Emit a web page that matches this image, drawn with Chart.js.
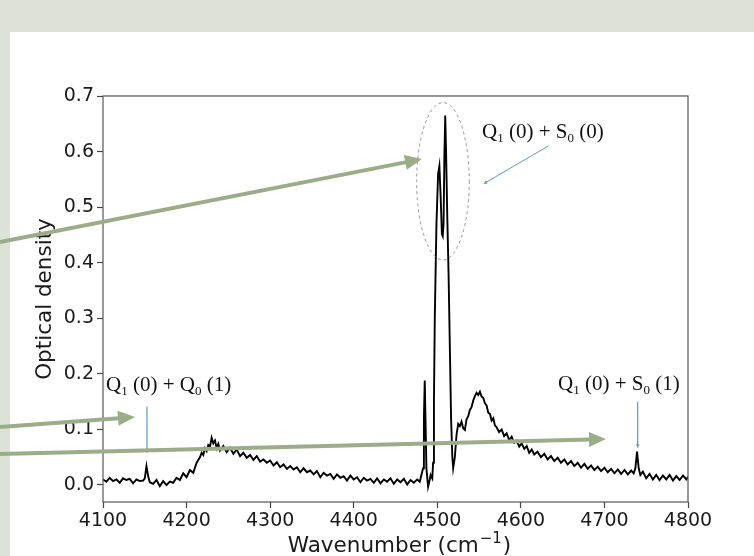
<!DOCTYPE html>
<html><head><meta charset="utf-8">
<script src="https://cdn.jsdelivr.net/npm/chart.js@4/dist/chart.umd.min.js"></script>
<style>html,body{margin:0;padding:0;background:#dde2d6;overflow:hidden}#wrap{position:absolute;left:0;top:0;width:754px;height:556px}</style>
</head><body><div id="wrap"><canvas id="c" width="754" height="556"></canvas></div>
<script>
const wavenumbers = [
4100,4104,4108,4112,4116,4120,4124,4128,4132,4136,4140,4144,4148,
4150,4152,4154,4156,4160,4164,4168,4172,4176,4180,4184,
4188,4192,4196,4200,4204,4208,4212,4216,4218,4220,4222,4224,4226,
4228,4230,4232,4234,4236,4238,4240,4244,4248,4252,
4256,4260,4264,4268,4272,4276,4280,4284,4288,4292,4296,4300,
4304,4308,4312,4316,4320,4324,4328,4332,4336,4340,4344,4348,
4352,4356,4360,4364,4368,4372,4376,4380,4384,4388,4392,4396,
4400,4404,4408,4412,4416,4420,4424,4428,4432,4436,4440,4444,
4448,4452,4456,4460,4464,4468,4472,4476,4479,
4481,4483,4484,4485,4486,4487,4489,4491,4492,4494,4495,4496,4497,
4499,4501,4502.5,4504,4505.5,4506.5,4507.5,4508.5,4509.5,4510.5,4512,4513.5,4515,4516.5,4518,
4519,4521,4523,4525,4527,4529,4531,4533,4535,4537,4539,4541,4543,4545,4547,
4549,4551,4553,4555,4557,4559,4561,4563,4565,4567,4569,4571,
4574,4577,4580,4583,4586,4589,4592,4595,4598,4601,4604,4607,
4610,4613,4616,4620,4624,4628,4632,4636,4640,4644,4648,4652,
4656,4660,4664,4668,4672,4676,4680,4684,4688,4692,4696,4700,
4704,4708,4712,4716,4720,4724,4728,4732,4735,4737,4739,4741,4743,
4746,4750,4754,4758,4762,4766,4770,4774,4778,4782,4786,4790,4794,4798,4800];
const opticalDensity = [
0.010,0.006,0.013,0.007,0.010,0.004,0.012,0.009,0.011,0.003,0.010,0.007,0.008,
0.012,0.034,0.016,0.005,0.002,0.009,-0.002,0.007,0.000,0.006,0.004,
0.013,0.009,0.021,0.014,0.027,0.022,0.040,0.050,0.058,0.054,0.066,0.061,0.072,
0.069,0.085,0.075,0.080,0.066,0.074,0.062,0.070,0.059,0.067,
0.056,0.064,0.052,0.058,0.049,0.054,0.045,0.052,0.042,0.046,0.040,0.044,
0.035,0.041,0.032,0.037,0.029,0.034,0.028,0.032,0.023,0.030,0.023,0.026,
0.019,0.025,0.014,0.022,0.017,0.020,0.011,0.019,0.013,0.016,0.008,0.017,
0.010,0.014,0.005,0.013,0.008,0.011,0.004,0.012,0.003,0.010,0.006,0.012,
0.002,0.010,0.005,0.011,0.001,0.009,0.004,0.010,0.006,
0.018,0.030,0.120,0.188,0.110,0.030,-0.003,0.010,0.018,0.012,0.040,0.150,0.300,
0.470,0.560,0.574,0.520,0.452,0.448,0.470,0.590,0.665,0.600,0.480,0.380,0.250,0.120,0.050,
0.030,0.050,0.090,0.110,0.106,0.114,0.102,0.099,0.118,0.124,0.135,0.140,0.152,0.160,0.166,
0.162,0.168,0.159,0.157,0.147,0.143,0.130,0.128,0.116,0.120,0.107,0.104,
0.095,0.100,0.088,0.093,0.081,0.087,0.076,0.080,0.069,0.075,0.065,0.070,
0.058,0.064,0.055,0.060,0.050,0.056,0.046,0.052,0.043,0.049,0.040,0.046,
0.037,0.043,0.034,0.040,0.031,0.038,0.029,0.035,0.027,0.033,0.025,0.031,
0.023,0.029,0.021,0.028,0.020,0.027,0.019,0.026,0.021,0.030,0.060,0.030,0.018,
0.024,0.012,0.020,0.010,0.018,0.009,0.017,0.010,0.018,0.008,0.016,0.009,0.017,0.010,0.015];
const xTickValues = [4100,4200,4300,4400,4500,4600,4700,4800];
const yTickValues = [0.0,0.1,0.2,0.3,0.4,0.5,0.6,0.7];
const peakLabels = ['Q_1 (0) + S_0 (0)','Q_1 (0) + Q_0 (1)','Q_1 (0) + S_0 (1)'];
const xTitleMain = 'Wavenumber (cm';
const xTitleSup = '\u22121';
const xTitleEnd = ')';
const yTitle = 'Optical density';

const bgPlugin = {
  id:'bg',
  beforeDraw(chart){
    const c = chart.ctx;
    c.save();
    c.fillStyle = '#dde2d6'; c.fillRect(0,0,chart.width,chart.height);
    c.fillStyle = '#ffffff'; c.fillRect(10,32,chart.width-10,chart.height-32);
    c.restore();
  }
};

function drawSub(c, text, x, y, size){
  const segs = text.split(/(_\d)/).filter(s=>s.length);
  let cx = x;
  c.textBaseline = 'alphabetic'; c.textAlign = 'left';
  for (const s of segs){
    if (s[0]==='_'){
      c.font = (size*0.62).toFixed(1)+'px "Liberation Serif"';
      c.fillText(s.slice(1), cx, y + size*0.18);
      cx += c.measureText(s.slice(1)).width;
    } else {
      c.font = size+'px "Liberation Serif"';
      c.fillText(s, cx, y);
      cx += c.measureText(s).width;
    }
  }
}
function arrow(c,x1,y1,x2,y2,color,lw,hl,hw){
  const a = Math.atan2(y2-y1,x2-x1);
  const bx = x2-hl*Math.cos(a), by = y2-hl*Math.sin(a);
  c.strokeStyle=color; c.lineWidth=lw; c.lineCap='butt';
  c.beginPath(); c.moveTo(x1,y1); c.lineTo(bx+1*Math.cos(a),by+1*Math.sin(a)); c.stroke();
  c.fillStyle=color; c.beginPath(); c.moveTo(x2,y2);
  c.lineTo(bx+hw*Math.sin(a), by-hw*Math.cos(a));
  c.lineTo(bx-hw*Math.sin(a), by+hw*Math.cos(a));
  c.closePath(); c.fill();
}

const overlayPlugin = {
  id:'overlay',
  afterDraw(chart){
    const c = chart.ctx, xs = chart.scales.x, ys = chart.scales.y, a = chart.chartArea;
    const X = v=>xs.getPixelForValue(v), Y = v=>ys.getPixelForValue(v);
    c.save();
    // frame
    c.strokeStyle = '#555'; c.lineWidth = 1.2;
    c.strokeRect(a.left, a.top, a.right-a.left, a.bottom-a.top);
    // x axis title with mathtext-like superscript
    c.fillStyle = '#1a1a1a'; c.textBaseline = 'alphabetic'; c.textAlign = 'left';
    const fMain = '21.5px "DejaVu Sans"', fSup = '15px "DejaVu Sans"';
    c.font = fMain; const w1 = c.measureText(xTitleMain).width, w3 = c.measureText(xTitleEnd).width;
    c.font = fSup; const w2 = c.measureText(xTitleSup).width;
    const tw = w1 + 1 + w2 + 1 + w3;
    let tx = (a.left + a.right)/2 + 4 - tw/2;
    const ty = 552;
    c.font = fMain; c.fillText(xTitleMain, tx, ty); tx += w1 + 1;
    c.font = fSup; c.fillText(xTitleSup, tx, ty - 9); tx += w2 + 1;
    c.font = fMain; c.fillText(xTitleEnd, tx, ty);
    // dashed ellipse around main doublet
    c.strokeStyle = '#8d99a6'; c.lineWidth = 1; c.setLineDash([3,3]);
    c.beginPath();
    c.ellipse(X(4506.8), Y(0.5465), X(4506.8)-X(4475.3), Y(0.5465-0.1416)-Y(0.5465), 0, 0, Math.PI*2);
    c.stroke(); c.setLineDash([]);
    // blue pointers
    const blue = '#5b9cbf';
    arrow(c, X(4632.8), Y(0.610), X(4555.1), Y(0.5417), blue, 1, 4, 1.8);
    arrow(c, X(4152.6), Y(0.1409), X(4152.6), Y(0.0570), blue, 1.2, 4, 1.8);
    arrow(c, X(4739.8), Y(0.150), X(4739.8), Y(0.066), blue, 1.2, 4, 1.8);
    // labels
    c.fillStyle = '#111';
    drawSub(c, peakLabels[0], X(4553.5), Y(0.6244), 21);
    drawSub(c, peakLabels[1], X(4103.6), Y(0.1683), 21);
    drawSub(c, peakLabels[2], X(4644.5), Y(0.171), 21);
    // green slide arrows
    const green = '#9aad88';
    arrow(c, 0, 242, 422, 159, green, 4, 17, 7.5);
    arrow(c, 0, 427, 135, 417, green, 4, 17, 7.5);
    arrow(c, 0, 454, 606, 439, green, 4, 17, 7.5);
    c.restore();
  }
};

const tickFont = {family:'DejaVu Sans', size:19};
new Chart(document.getElementById('c'), {
  type:'line',
  data:{datasets:[{
    data: wavenumbers.map((x,i)=>({x:x, y:opticalDensity[i]})),
    borderColor:'#000', borderWidth:1.9, pointRadius:0, tension:0, fill:false
  }]},
  options:{
    responsive:false, animation:false, events:[],
    layout:{padding:{left:0, top:96, right:66, bottom:0}},
    plugins:{legend:{display:false}, tooltip:{enabled:false}},
    scales:{
      x:{type:'linear', min:4100, max:4800,
        afterBuildTicks(s){ s.ticks = xTickValues.map(v=>({value:v})); },
        afterFit(s){ s.height = 54; },
        ticks:{font:tickFont, color:'#1a1a1a', padding:2, maxRotation:0, autoSkip:false, callback:v=>String(v)},
        grid:{drawOnChartArea:false, drawTicks:true, tickLength:6, tickColor:'#444', tickWidth:1.2},
        border:{display:false},
        title:{display:false}
      },
      y:{type:'linear', min:-0.0306, max:0.7,
        afterBuildTicks(s){ s.ticks = yTickValues.map(v=>({value:v})); },
        afterFit(s){ s.width = 103; },
        ticks:{font:tickFont, color:'#1a1a1a', padding:3, autoSkip:false, callback:v=>Number(v).toFixed(1)},
        grid:{drawOnChartArea:false, drawTicks:true, tickLength:6, tickColor:'#444', tickWidth:1.2},
        border:{display:false},
        title:{display:true, text:yTitle, font:{family:'DejaVu Sans', size:21.5, lineHeight:1.2}, color:'#1a1a1a', padding:{top:33,bottom:0}}
      }
    }
  },
  plugins:[bgPlugin, overlayPlugin]
});
</script></body></html>
